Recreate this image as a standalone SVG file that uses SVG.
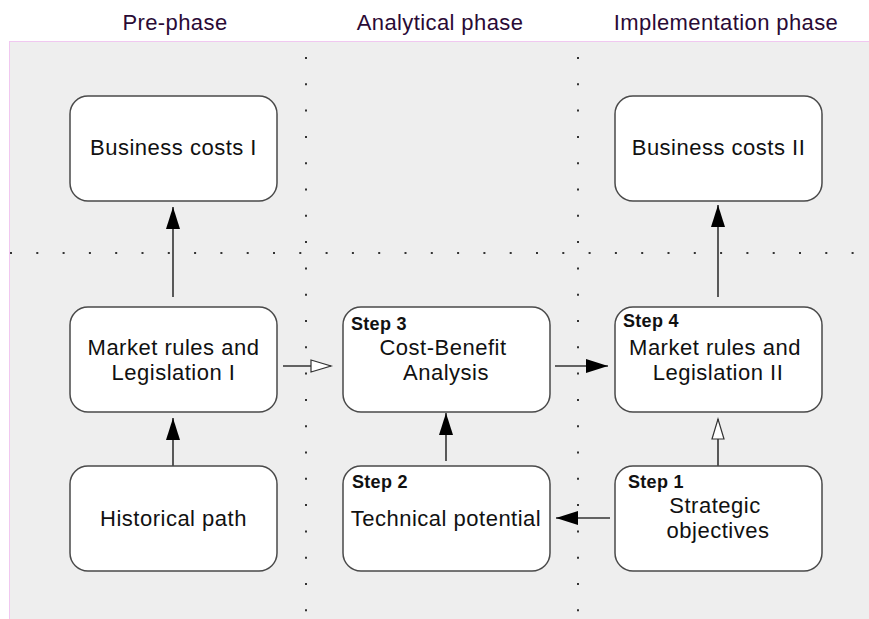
<svg xmlns="http://www.w3.org/2000/svg" width="869" height="619" viewBox="0 0 869 619">
<style>
.bg{fill:#eeeeee;stroke:#f0c8f0;stroke-width:1}
.box{fill:#ffffff;stroke:#4a4a4a;stroke-width:1.5}
.t{font-family:"Liberation Sans",Arial,sans-serif;font-size:22px;letter-spacing:0.5px;fill:#111111;text-anchor:middle}
.h{font-family:"Liberation Sans",Arial,sans-serif;font-size:22px;letter-spacing:0.4px;fill:#2a0a35;text-anchor:middle}
.s{font-family:"Liberation Sans",Arial,sans-serif;font-size:18px;letter-spacing:0.3px;font-weight:bold;fill:#111111}
.dot{stroke:#333333;stroke-width:2;stroke-dasharray:2 24.3;fill:none}
.c{stroke:#333333;stroke-width:1.6;fill:none}
</style>
<defs>
<marker id="fa" markerUnits="userSpaceOnUse" markerWidth="24" markerHeight="16" refX="22" refY="7" orient="auto">
<path d="M0,0 L22,7 L0,14 z" fill="#000000"/>
</marker>
<marker id="oa" markerUnits="userSpaceOnUse" markerWidth="24" markerHeight="16" refX="21" refY="7" orient="auto">
<path d="M1,1 L21,7 L1,13 z" fill="#ffffff" stroke="#333333" stroke-width="1.2"/>
</marker>
</defs>
<rect width="869" height="619" fill="#ffffff"/>
<rect class="bg" x="9.5" y="41.5" width="870" height="590"/>
<g id="headers">
<text class="h" x="175" y="30">Pre-phase</text>
<text class="h" x="440" y="30">Analytical phase</text>
<text class="h" x="726" y="30">Implementation phase</text>
</g>
<g id="grid">
<line class="dot" x1="306" y1="57" x2="306" y2="619"/>
<line class="dot" x1="578" y1="57" x2="578" y2="619"/>
<line class="dot" x1="10" y1="253" x2="869" y2="253"/>
</g>
<g id="connectors">
<line class="c" x1="173" y1="297" x2="173" y2="207" marker-end="url(#fa)"/>
<line class="c" x1="173" y1="466" x2="173" y2="418" marker-end="url(#fa)"/>
<line class="c" x1="283" y1="366" x2="331" y2="366" marker-end="url(#oa)"/>
<line class="c" x1="555" y1="366" x2="608" y2="366" marker-end="url(#fa)"/>
<line class="c" x1="446" y1="461" x2="446" y2="413" marker-end="url(#fa)"/>
<line class="c" x1="718" y1="466" x2="718" y2="419" marker-end="url(#oa)"/>
<line class="c" x1="610" y1="518" x2="556" y2="518" marker-end="url(#fa)"/>
<line class="c" x1="718" y1="297" x2="718" y2="205" marker-end="url(#fa)"/>
</g>
<g id="business-costs-1">
<rect class="box" x="70" y="96" width="207" height="105" rx="18"/>
<text class="t" x="173.5" y="155">Business costs I</text>
</g>
<g id="business-costs-2">
<rect class="box" x="615" y="96" width="207" height="105" rx="18"/>
<text class="t" x="718.5" y="155">Business costs II</text>
</g>
<g id="market-rules-1">
<rect class="box" x="70" y="307" width="207" height="105" rx="18"/>
<text class="t" x="173.5" y="355">Market rules and</text>
<text class="t" x="173.5" y="380">Legislation I</text>
</g>
<g id="cost-benefit">
<rect class="box" x="343" y="307" width="207" height="105" rx="18"/>
<text class="s" x="351" y="330">Step 3</text>
<text class="t" x="443" y="355">Cost-Benefit</text>
<text class="t" x="446" y="380">Analysis</text>
</g>
<g id="market-rules-2">
<rect class="box" x="615" y="307" width="207" height="105" rx="18"/>
<text class="s" x="623" y="327">Step 4</text>
<text class="t" x="715" y="355">Market rules and</text>
<text class="t" x="718" y="380">Legislation II</text>
</g>
<g id="historical-path">
<rect class="box" x="70" y="466" width="207" height="105" rx="18"/>
<text class="t" x="173.5" y="526">Historical path</text>
</g>
<g id="technical-potential">
<rect class="box" x="343" y="466" width="207" height="105" rx="18"/>
<text class="s" x="352" y="488">Step 2</text>
<text class="t" x="446" y="526">Technical potential</text>
</g>
<g id="strategic-objectives">
<rect class="box" x="615" y="466" width="207" height="105" rx="18"/>
<text class="s" x="628" y="488">Step 1</text>
<text class="t" x="715" y="513">Strategic</text>
<text class="t" x="718" y="538">objectives</text>
</g>
</svg>
